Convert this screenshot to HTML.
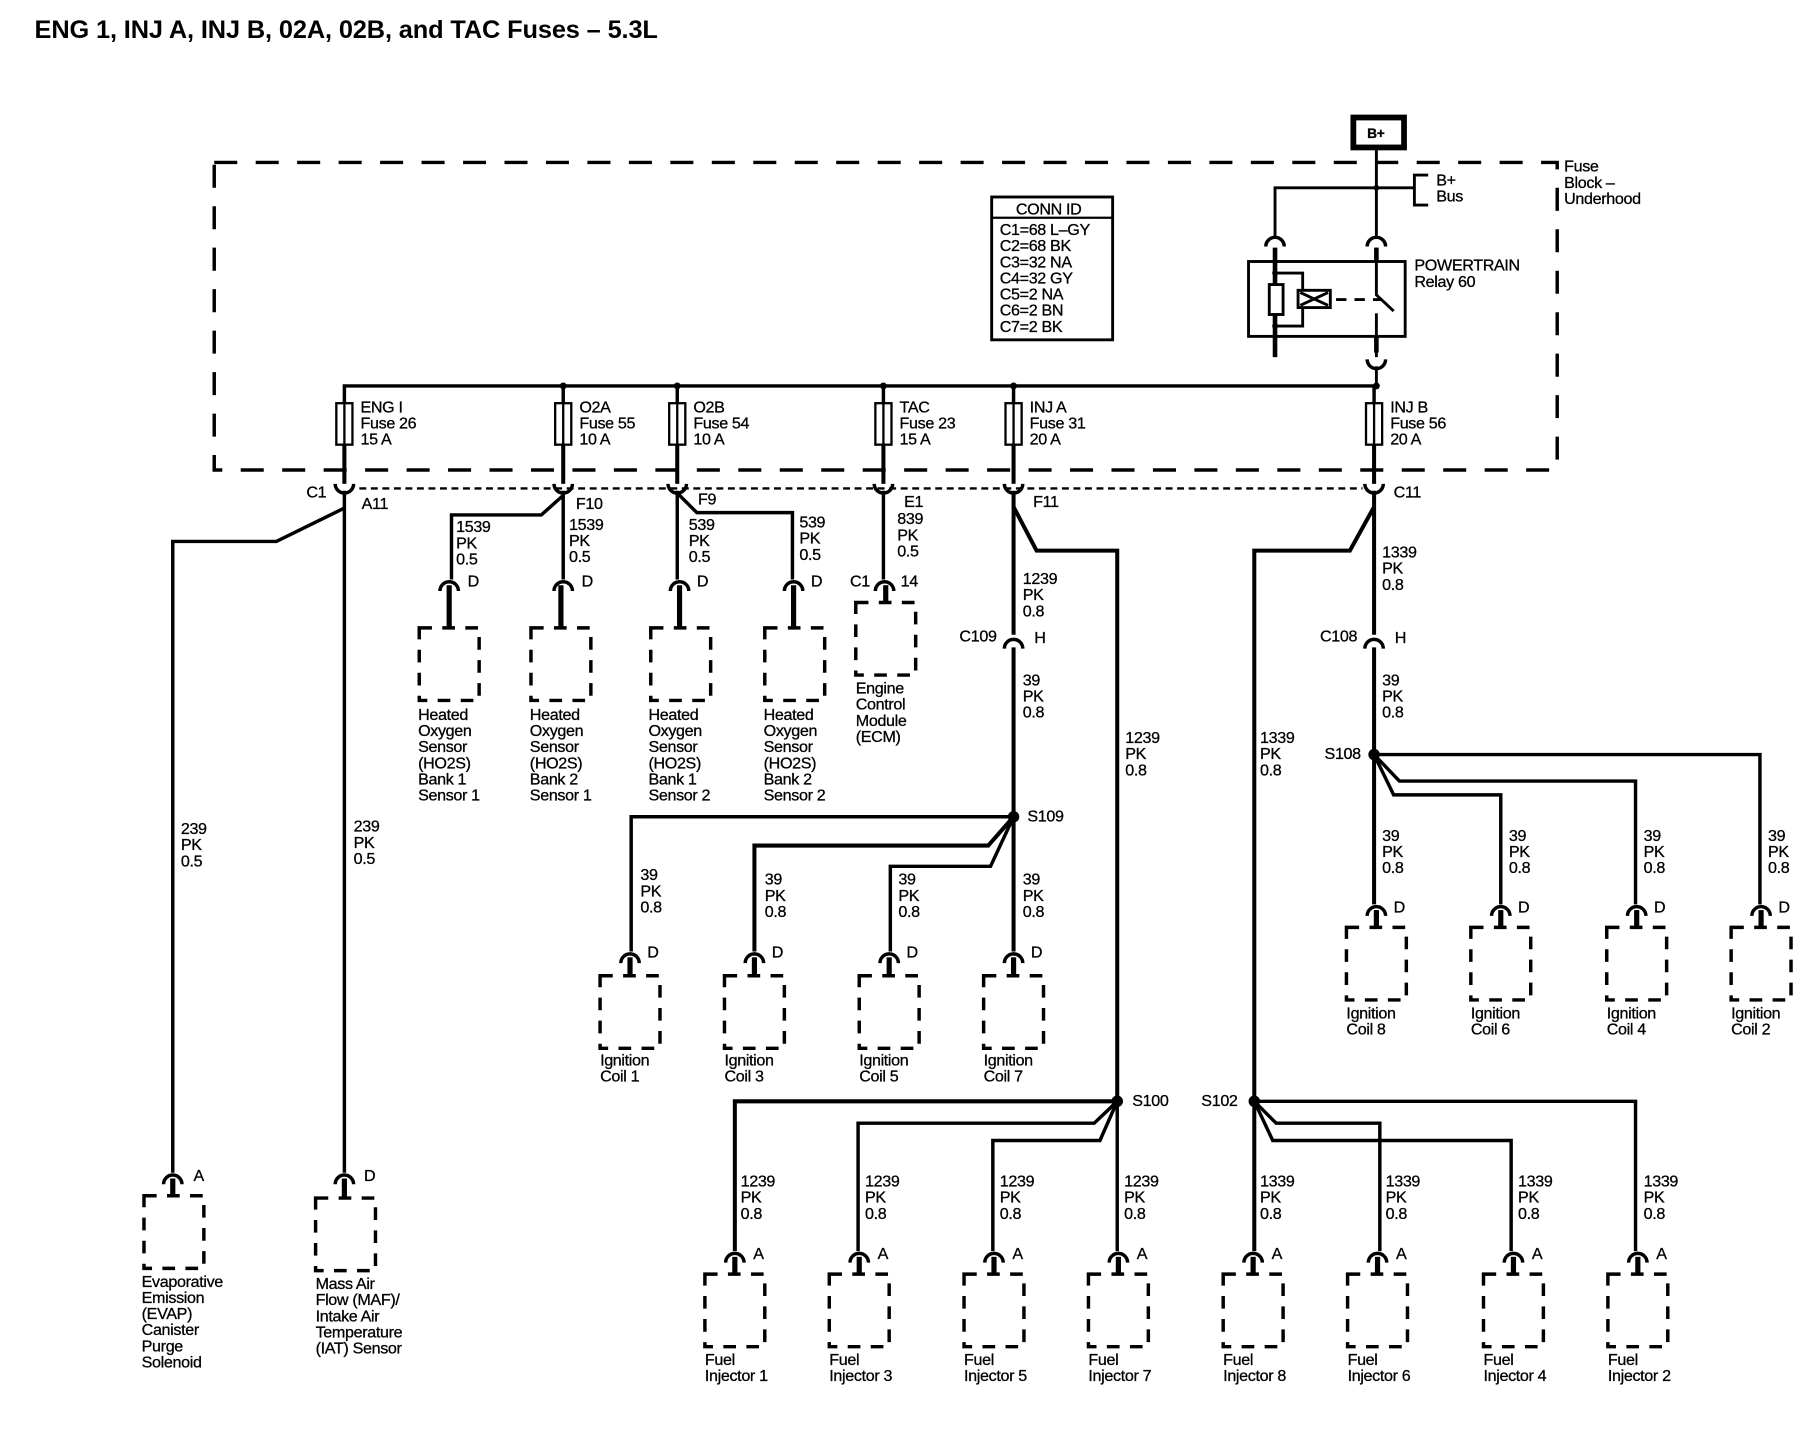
<!DOCTYPE html>
<html><head><meta charset="utf-8"><style>
html,body{margin:0;padding:0;background:#fff}
svg{display:block}
text{font-family:"Liberation Sans",sans-serif;font-size:14px;fill:#000;letter-spacing:-0.3px;stroke:#000;stroke-width:0.25px}
.t{font-weight:bold;font-size:22px;letter-spacing:-0.1px;stroke-width:0}
.b{font-weight:bold}
</style></head><body>
<svg width="1806" height="1440" viewBox="0 0 1568 1250" preserveAspectRatio="none" xmlns="http://www.w3.org/2000/svg">
<defs>
<g id="cf" fill="none" stroke="#000"><path d="M-8,6 A8,8 0 0 1 8,6" stroke-width="3"/></g>
<g id="cm" fill="none" stroke="#000"><path d="M-8,-6 A8,8 0 0 0 8,-6" stroke-width="3"/></g>
<rect id="bx" x="-26" y="0" width="52" height="63" fill="none" stroke="#000" stroke-width="3" stroke-dasharray="11,9"/>
<g id="fuse" fill="none" stroke="#000" stroke-width="2"><rect x="-7" y="0" width="14" height="36" fill="#fff"/><line x1="0" y1="0" x2="0" y2="36"/></g>
</defs>
<text x="30" y="33" class="t">ENG 1, INJ A, INJ B, 02A, 02B, and TAC Fuses – 5.3L</text>

<rect x="1175" y="102" width="44" height="26" fill="#fff" stroke="#000" stroke-width="5"/>
<text x="1187" y="120" class="b" style="font-size:12px">B+</text>

<rect x="186" y="141" width="1166" height="267" fill="none" stroke="#000" stroke-width="3" stroke-dasharray="20,16"/>
<text x="1358" y="149">Fuse</text><text x="1358" y="163">Block –</text><text x="1358" y="177">Underhood</text>

<g stroke="#000" fill="none" stroke-width="2.5">
<line x1="1195" y1="130" x2="1195" y2="205"/>
<polyline points="1107,205 1107,163 1228,163"/>
<polyline points="1240,152 1228,152 1228,178 1240,178"/>
<rect x="1084" y="227" width="136" height="65"/>
<line x1="1107" y1="215" x2="1107" y2="310" stroke-width="4"/>
<polyline points="1107,237 1131,237 1131,283 1107,283"/>
<rect x="1102" y="247" width="12" height="26" fill="#fff"/>
<rect x="1127" y="252" width="28" height="15" fill="#fff"/>
<path d="M1129,254 L1153,265 M1129,265 L1153,254"/>
<line x1="1160" y1="260" x2="1200" y2="260" stroke-dasharray="9,7"/>
<polyline points="1195,215 1195,256 1210,270" />
<line x1="1195" y1="272" x2="1195" y2="310"/>
<line x1="1195" y1="215" x2="1195" y2="228" stroke-width="4"/>
<line x1="1195" y1="292" x2="1195" y2="306" stroke-width="4"/>
<line x1="1195" y1="318" x2="1195" y2="336"/>
</g>
<use href="#cf" x="1107" y="208"/><use href="#cf" x="1195" y="208"/>
<use href="#cm" x="1195" y="318"/>
<circle cx="1107" cy="237" r="2.5"/><circle cx="1107" cy="283" r="2.5"/><circle cx="1195" cy="163" r="2.5"/>
<text x="1247" y="161">B+</text><text x="1247" y="175">Bus</text>
<text x="1228" y="235">POWERTRAIN</text><text x="1228" y="249">Relay 60</text>

<rect x="861" y="171" width="105" height="124" fill="none" stroke="#000" stroke-width="2.5"/>
<line x1="861" y1="189" x2="966" y2="189" stroke="#000" stroke-width="2"/>
<text x="882" y="186">CONN ID</text>
<text x="868" y="204">C1=68 L–GY</text><text x="868" y="218">C2=68 BK</text><text x="868" y="232">C3=32 NA</text><text x="868" y="246">C4=32 GY</text><text x="868" y="260">C5=2 NA</text><text x="868" y="274">C6=2 BN</text><text x="868" y="288">C7=2 BK</text>

<g stroke="#000" fill="none" stroke-width="3">
<polyline points="299,350 299,335 1195,335"/>
<line x1="489" y1="335" x2="489" y2="350"/><line x1="588" y1="335" x2="588" y2="350"/><line x1="767" y1="335" x2="767" y2="350"/><line x1="880" y1="335" x2="880" y2="350"/><line x1="1193" y1="335" x2="1193" y2="350"/>
<line x1="299" y1="386" x2="299" y2="420" stroke-width="3.5"/><line x1="489" y1="386" x2="489" y2="420" stroke-width="3.5"/><line x1="588" y1="386" x2="588" y2="420" stroke-width="3.5"/><line x1="767" y1="386" x2="767" y2="420" stroke-width="3.5"/><line x1="880" y1="386" x2="880" y2="420" stroke-width="3.5"/><line x1="1193" y1="386" x2="1193" y2="420" stroke-width="3.5"/>
<line x1="312" y1="424" x2="1183" y2="424" stroke-width="2" stroke-dasharray="6,4"/>
</g>
<g><circle cx="489" cy="335" r="3"/><circle cx="588" cy="335" r="3"/><circle cx="767" cy="335" r="3"/><circle cx="880" cy="335" r="3"/><circle cx="1195" cy="335" r="3"/></g>
<use href="#fuse" x="299" y="350"/><use href="#fuse" x="489" y="350"/><use href="#fuse" x="588" y="350"/><use href="#fuse" x="767" y="350"/><use href="#fuse" x="880" y="350"/><use href="#fuse" x="1193" y="350"/>
<text x="313" y="358">ENG I</text><text x="313" y="372">Fuse 26</text><text x="313" y="386">15 A</text>
<text x="503" y="358">O2A</text><text x="503" y="372">Fuse 55</text><text x="503" y="386">10 A</text>
<text x="602" y="358">O2B</text><text x="602" y="372">Fuse 54</text><text x="602" y="386">10 A</text>
<text x="781" y="358">TAC</text><text x="781" y="372">Fuse 23</text><text x="781" y="386">15 A</text>
<text x="894" y="358">INJ A</text><text x="894" y="372">Fuse 31</text><text x="894" y="386">20 A</text>
<text x="1207" y="358">INJ B</text><text x="1207" y="372">Fuse 56</text><text x="1207" y="386">20 A</text>
<use href="#cm" x="299" y="426"/><use href="#cm" x="489" y="426"/><use href="#cm" x="588" y="426"/><use href="#cm" x="767" y="426"/><use href="#cm" x="880" y="426"/><use href="#cm" x="1193" y="426"/>
<text x="266" y="432">C1</text><text x="314" y="442">A11</text><text x="500" y="442">F10</text><text x="606" y="438">F9</text><text x="785" y="440">E1</text><text x="897" y="440">F11</text><text x="1210" y="432">C11</text>

<g stroke="#000" fill="none" stroke-width="3">
<line x1="299" y1="426" x2="299" y2="1018"/>
<polyline points="299,441 240,470 150,470 150,1018"/>
<line x1="489" y1="426" x2="489" y2="503"/>
<polyline points="489,430 470,447 392,447 392,503"/>
<line x1="588" y1="426" x2="588" y2="503"/>
<polyline points="588,428 605,445 688,445 688,503"/>
<line x1="767" y1="426" x2="767" y2="503"/>
<line x1="880" y1="426" x2="880" y2="551" stroke-width="3.5"/>
<line x1="880" y1="562" x2="880" y2="826" stroke-width="3.5"/>
<polyline points="880,440 900,478 970,478 970,956" stroke-width="3.5"/>
<line x1="1193" y1="426" x2="1193" y2="551" stroke-width="3.5"/>
<line x1="1193" y1="562" x2="1193" y2="785" stroke-width="3.5"/>
<polyline points="1193,440 1172,478 1089,478 1089,1086" stroke-width="3.5"/>
<polyline points="880,709 548,709 548,826"/>
<polyline points="880,709 858,734 655,734 655,826" stroke-width="3.5"/>
<polyline points="880,709 860,752 773,752 773,826"/>
<polyline points="1193,655 1528,655 1528,785"/>
<polyline points="1193,655 1215,678 1420,678 1420,785"/>
<polyline points="1193,655 1210,690 1303,690 1303,785"/>
<polyline points="970,956 638,956 638,1086" stroke-width="3.5"/>
<polyline points="970,956 950,975 745,975 745,1086"/>
<polyline points="970,956 955,990 862,990 862,1086"/>
<line x1="970" y1="956" x2="970" y2="1086"/>
<polyline points="1089,956 1420,956 1420,1086"/>
<polyline points="1089,956 1108,975 1198,975 1198,1086"/>
<polyline points="1089,956 1105,990 1312,990 1312,1086"/>
</g>
<circle cx="880" cy="709" r="5"/><circle cx="1193" cy="655" r="5"/><circle cx="970" cy="956" r="5"/><circle cx="1089" cy="956" r="5"/>
<use href="#cf" x="880" y="557"/><use href="#cf" x="1193" y="557"/>
<text x="833" y="557">C109</text><text x="898" y="558">H</text><text x="1146" y="557">C108</text><text x="1211" y="558">H</text>
<text x="892" y="713">S109</text><text x="1150" y="659">S108</text><text x="983" y="960">S100</text><text x="1043" y="960">S102</text>

<text x="157" y="724">239</text><text x="157" y="738">PK</text><text x="157" y="752">0.5</text>
<text x="307" y="722">239</text><text x="307" y="736">PK</text><text x="307" y="750">0.5</text>
<text x="396" y="462">1539</text><text x="396" y="476">PK</text><text x="396" y="490">0.5</text>
<text x="494" y="460">1539</text><text x="494" y="474">PK</text><text x="494" y="488">0.5</text>
<text x="598" y="460">539</text><text x="598" y="474">PK</text><text x="598" y="488">0.5</text>
<text x="694" y="458">539</text><text x="694" y="472">PK</text><text x="694" y="486">0.5</text>
<text x="779" y="455">839</text><text x="779" y="469">PK</text><text x="779" y="483">0.5</text>
<text x="888" y="507">1239</text><text x="888" y="521">PK</text><text x="888" y="535">0.8</text>
<text x="888" y="595">39</text><text x="888" y="609">PK</text><text x="888" y="623">0.8</text>
<text x="977" y="645">1239</text><text x="977" y="659">PK</text><text x="977" y="673">0.8</text>
<text x="1200" y="484">1339</text><text x="1200" y="498">PK</text><text x="1200" y="512">0.8</text>
<text x="1200" y="595">39</text><text x="1200" y="609">PK</text><text x="1200" y="623">0.8</text>
<text x="1094" y="645">1339</text><text x="1094" y="659">PK</text><text x="1094" y="673">0.8</text>
<text x="556" y="764">39</text><text x="556" y="778">PK</text><text x="556" y="792">0.8</text>
<text x="664" y="768">39</text><text x="664" y="782">PK</text><text x="664" y="796">0.8</text>
<text x="780" y="768">39</text><text x="780" y="782">PK</text><text x="780" y="796">0.8</text>
<text x="888" y="768">39</text><text x="888" y="782">PK</text><text x="888" y="796">0.8</text>
<text x="1200" y="730">39</text><text x="1200" y="744">PK</text><text x="1200" y="758">0.8</text>
<text x="1310" y="730">39</text><text x="1310" y="744">PK</text><text x="1310" y="758">0.8</text>
<text x="1427" y="730">39</text><text x="1427" y="744">PK</text><text x="1427" y="758">0.8</text>
<text x="1535" y="730">39</text><text x="1535" y="744">PK</text><text x="1535" y="758">0.8</text>
<text x="643" y="1030">1239</text><text x="643" y="1044">PK</text><text x="643" y="1058">0.8</text>
<text x="751" y="1030">1239</text><text x="751" y="1044">PK</text><text x="751" y="1058">0.8</text>
<text x="868" y="1030">1239</text><text x="868" y="1044">PK</text><text x="868" y="1058">0.8</text>
<text x="976" y="1030">1239</text><text x="976" y="1044">PK</text><text x="976" y="1058">0.8</text>
<text x="1094" y="1030">1339</text><text x="1094" y="1044">PK</text><text x="1094" y="1058">0.8</text>
<text x="1203" y="1030">1339</text><text x="1203" y="1044">PK</text><text x="1203" y="1058">0.8</text>
<text x="1318" y="1030">1339</text><text x="1318" y="1044">PK</text><text x="1318" y="1058">0.8</text>
<text x="1427" y="1030">1339</text><text x="1427" y="1044">PK</text><text x="1427" y="1058">0.8</text>

<g stroke="#000" stroke-width="4.5">
<line x1="150" y1="1023" x2="150" y2="1038"/><line x1="299" y1="1023" x2="299" y2="1040"/>
<line x1="390" y1="508" x2="390" y2="545"/><line x1="487" y1="508" x2="487" y2="545"/><line x1="590" y1="508" x2="590" y2="545"/><line x1="689" y1="508" x2="689" y2="545"/>
<line x1="769" y1="508" x2="769" y2="522"/>
<line x1="547" y1="831" x2="547" y2="847"/><line x1="655" y1="831" x2="655" y2="847"/><line x1="772" y1="831" x2="772" y2="847"/><line x1="880" y1="831" x2="880" y2="847"/>
<line x1="1195" y1="790" x2="1195" y2="805"/><line x1="1303" y1="790" x2="1303" y2="805"/><line x1="1421" y1="790" x2="1421" y2="805"/><line x1="1529" y1="790" x2="1529" y2="805"/>
<line x1="638" y1="1091" x2="638" y2="1106"/><line x1="746" y1="1091" x2="746" y2="1106"/><line x1="863" y1="1091" x2="863" y2="1106"/><line x1="971" y1="1091" x2="971" y2="1106"/>
<line x1="1088" y1="1091" x2="1088" y2="1106"/><line x1="1196" y1="1091" x2="1196" y2="1106"/><line x1="1314" y1="1091" x2="1314" y2="1106"/><line x1="1422" y1="1091" x2="1422" y2="1106"/>
</g>
<use href="#cf" x="150" y="1022"/><use href="#cf" x="299" y="1022"/>
<use href="#cf" x="390" y="507"/><use href="#cf" x="489" y="507"/><use href="#cf" x="590" y="507"/><use href="#cf" x="689" y="507"/><use href="#cf" x="768" y="507"/>
<use href="#cf" x="547" y="830"/><use href="#cf" x="655" y="830"/><use href="#cf" x="772" y="830"/><use href="#cf" x="880" y="830"/>
<use href="#cf" x="1195" y="789"/><use href="#cf" x="1303" y="789"/><use href="#cf" x="1421" y="789"/><use href="#cf" x="1529" y="789"/>
<use href="#cf" x="638" y="1090"/><use href="#cf" x="746" y="1090"/><use href="#cf" x="863" y="1090"/><use href="#cf" x="971" y="1090"/>
<use href="#cf" x="1088" y="1090"/><use href="#cf" x="1196" y="1090"/><use href="#cf" x="1314" y="1090"/><use href="#cf" x="1422" y="1090"/>
<use href="#bx" x="151" y="1038"/><use href="#bx" x="300" y="1040"/>
<use href="#bx" x="390" y="545"/><use href="#bx" x="487" y="545"/><use href="#bx" x="591" y="545"/><use href="#bx" x="690" y="545"/>
<use href="#bx" x="769" y="523"/>
<use href="#bx" x="547" y="847"/><use href="#bx" x="655" y="847"/><use href="#bx" x="772" y="847"/><use href="#bx" x="880" y="847"/>
<use href="#bx" x="1195" y="805"/><use href="#bx" x="1303" y="805"/><use href="#bx" x="1421" y="805"/><use href="#bx" x="1529" y="805"/>
<use href="#bx" x="638" y="1106"/><use href="#bx" x="746" y="1106"/><use href="#bx" x="863" y="1106"/><use href="#bx" x="971" y="1106"/>
<use href="#bx" x="1088" y="1106"/><use href="#bx" x="1196" y="1106"/><use href="#bx" x="1314" y="1106"/><use href="#bx" x="1422" y="1106"/>

<text x="168" y="1025">A</text><text x="316" y="1025">D</text>
<text x="406" y="509">D</text><text x="505" y="509">D</text><text x="605" y="509">D</text><text x="704" y="509">D</text>
<text x="738" y="509">C1</text><text x="782" y="509">14</text>
<text x="562" y="831">D</text><text x="670" y="831">D</text><text x="787" y="831">D</text><text x="895" y="831">D</text>
<text x="1210" y="792">D</text><text x="1318" y="792">D</text><text x="1436" y="792">D</text><text x="1544" y="792">D</text>
<text x="654" y="1093">A</text><text x="762" y="1093">A</text><text x="879" y="1093">A</text><text x="987" y="1093">A</text>
<text x="1104" y="1093">A</text><text x="1212" y="1093">A</text><text x="1330" y="1093">A</text><text x="1438" y="1093">A</text>

<text x="123" y="1117">Evaporative</text><text x="123" y="1131">Emission</text><text x="123" y="1145">(EVAP)</text><text x="123" y="1159">Canister</text><text x="123" y="1173">Purge</text><text x="123" y="1187">Solenoid</text>
<text x="274" y="1119">Mass Air</text><text x="274" y="1133">Flow (MAF)/</text><text x="274" y="1147">Intake Air</text><text x="274" y="1161">Temperature</text><text x="274" y="1175">(IAT) Sensor</text>
<text x="363" y="625">Heated</text><text x="363" y="639">Oxygen</text><text x="363" y="653">Sensor</text><text x="363" y="667">(HO2S)</text><text x="363" y="681">Bank 1</text><text x="363" y="695">Sensor 1</text>
<text x="460" y="625">Heated</text><text x="460" y="639">Oxygen</text><text x="460" y="653">Sensor</text><text x="460" y="667">(HO2S)</text><text x="460" y="681">Bank 2</text><text x="460" y="695">Sensor 1</text>
<text x="563" y="625">Heated</text><text x="563" y="639">Oxygen</text><text x="563" y="653">Sensor</text><text x="563" y="667">(HO2S)</text><text x="563" y="681">Bank 1</text><text x="563" y="695">Sensor 2</text>
<text x="663" y="625">Heated</text><text x="663" y="639">Oxygen</text><text x="663" y="653">Sensor</text><text x="663" y="667">(HO2S)</text><text x="663" y="681">Bank 2</text><text x="663" y="695">Sensor 2</text>
<text x="743" y="602">Engine</text><text x="743" y="616">Control</text><text x="743" y="630">Module</text><text x="743" y="644">(ECM)</text>
<text x="521" y="925">Ignition</text><text x="521" y="939">Coil 1</text>
<text x="629" y="925">Ignition</text><text x="629" y="939">Coil 3</text>
<text x="746" y="925">Ignition</text><text x="746" y="939">Coil 5</text>
<text x="854" y="925">Ignition</text><text x="854" y="939">Coil 7</text>
<text x="1169" y="884">Ignition</text><text x="1169" y="898">Coil 8</text>
<text x="1277" y="884">Ignition</text><text x="1277" y="898">Coil 6</text>
<text x="1395" y="884">Ignition</text><text x="1395" y="898">Coil 4</text>
<text x="1503" y="884">Ignition</text><text x="1503" y="898">Coil 2</text>
<text x="612" y="1185">Fuel</text><text x="612" y="1199">Injector 1</text>
<text x="720" y="1185">Fuel</text><text x="720" y="1199">Injector 3</text>
<text x="837" y="1185">Fuel</text><text x="837" y="1199">Injector 5</text>
<text x="945" y="1185">Fuel</text><text x="945" y="1199">Injector 7</text>
<text x="1062" y="1185">Fuel</text><text x="1062" y="1199">Injector 8</text>
<text x="1170" y="1185">Fuel</text><text x="1170" y="1199">Injector 6</text>
<text x="1288" y="1185">Fuel</text><text x="1288" y="1199">Injector 4</text>
<text x="1396" y="1185">Fuel</text><text x="1396" y="1199">Injector 2</text>
</svg>
</body></html>
